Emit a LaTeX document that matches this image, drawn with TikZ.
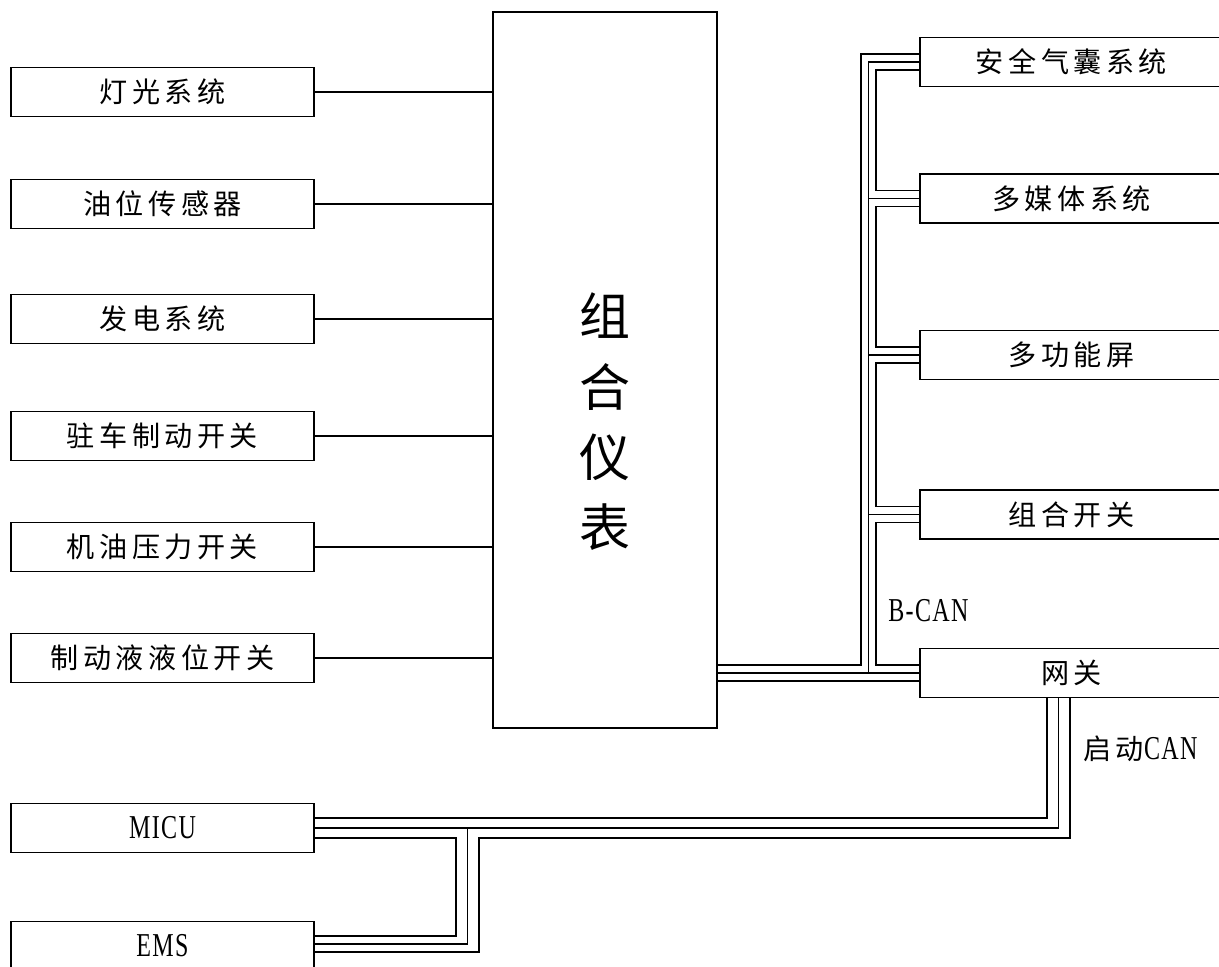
\documentclass[tikz,border=0pt]{standalone}
\usepackage{fontspec}
\setmainfont{Liberation Serif}[FakeStretch=0.72,LetterSpace=4]
\newfontfamily\cjk{Noto Sans CJK SC}[LetterSpace=16]
\newfontfamily\cjkplain{Noto Sans CJK SC}
\usetikzlibrary{calc}

\tikzset{
	box/.style = {draw, line width = 1.1 pt, minimum width = 6.06 cm, minimum height = 0.98 cm, inner sep = 0 pt, font = \cjk\fontsize{16pt}{16pt}\selectfont},
	latinbox/.style = {box, font = \fontsize{19pt}{19pt}\selectfont},
	wire/.style = {line width = 1 pt},
	buslabel/.style = {anchor = west, inner sep = 0 pt, font = \fontsize{19pt}{19pt}\selectfont}
}

\begin{document}
\begin{tikzpicture}[x = 0.02 cm, y = -0.02 cm]
	 \useasboundingbox (0, 0) rectangle (1219, 966);
	 \node[draw, line width = 1.1 pt, minimum width = 4.48 cm, minimum height = 14.32 cm] (meter) at (605, 370) {};
	 \node[font = \cjkplain\fontsize{29pt}{40pt}\selectfont, align = center] (metertext) at (605, 422) {组\\合\\仪\\表};

	 \foreach \name/\y/\txt in {light/92/灯光系统, fuel/204/油位传感器, charge/319/发电系统, park/436/驻车制动开关, oil/547/机油压力开关, brake/658/制动液液位开关}
	 {
	 	\node[box] (\name) at (162.5, \y) {\txt};
	 	\draw[wire] (\name.east) -- (\name.east -| meter.west);
	 }

	 \foreach \name/\y/\txt in {airbag/62/安全气囊系统, media/198.5/多媒体系统, display/355/多功能屏, combsw/514.5/组合开关, gateway/673/网关}
	 {
	 	\node[box] (\name) at (1071.5, \y) {\txt};
	 	\coordinate (\name-t) at ($(\name.west) + (0, -8)$);
	 	\coordinate (\name-b) at ($(\name.west) + (0, 8)$);
	 }

	 \coordinate (bo) at (861, 0);
	 \coordinate (bm) at (868.5, 0);
	 \coordinate (bi) at (876, 0);
	 \draw[wire] (meter.east |- gateway-t) -| (bo |- airbag-t) -- (airbag-t);
	 \draw[wire] (meter.east |- gateway) -- (gateway.west);
	 \draw[wire] (meter.east |- gateway-b) -- (gateway-b);
	 \draw[wire] (bm |- gateway) -- (bm |- airbag) -- (airbag.west);
	 \foreach \name in {media, display, combsw}
	 \draw[wire] (bm |- \name) -- (\name.west);
	 \foreach \a/\b in {airbag/media, media/display, display/combsw, combsw/gateway}
	 \draw[wire] (\a-b) -| (bi |- \b-t) -- (\b-t);
	 \node[buslabel] (bcan) at (888, 611) {B-CAN};

	 \node[latinbox] (micu) at (162.5, 828) {MICU};
	 \node[latinbox] (ems) at (162.5, 946) {EMS};
	 \coordinate (micu-t) at ($(micu.east) + (0, -10)$);
	 \coordinate (micu-m) at (micu.east);
	 \coordinate (micu-b) at ($(micu.east) + (0, 10)$);
	 \coordinate (ems-t) at ($(ems.east) + (0, -10)$);
	 \coordinate (ems-m) at ($(ems.east) + (0, -2)$);
	 \coordinate (ems-b) at ($(ems.east) + (0, 6)$);
	 \coordinate (ra) at (1047, 0);
	 \coordinate (rb) at (1058.5, 0);
	 \coordinate (rc) at (1070, 0);
	 \coordinate (ea) at (456, 0);
	 \coordinate (eb) at (467.5, 0);
	 \coordinate (ec) at (479, 0);
	 \draw[wire] (micu-t) -| (ra |- gateway.south);
	 \draw[wire] (micu-m) -| (rb |- gateway.south);
	 \draw[wire] (ems-b) -| (ec |- micu-b) -| (rc |- gateway.south);
	 \draw[wire] (micu-b) -| (ea |- ems-t) -- (ems-t);
	 \draw[wire] (eb |- micu-m) |- (ems-m);
	 \node[buslabel] (startcan) at (1083, 749) {{\cjk\fontsize{16pt}{16pt}\selectfont 启动}CAN};
\end{tikzpicture}
\end{document}
